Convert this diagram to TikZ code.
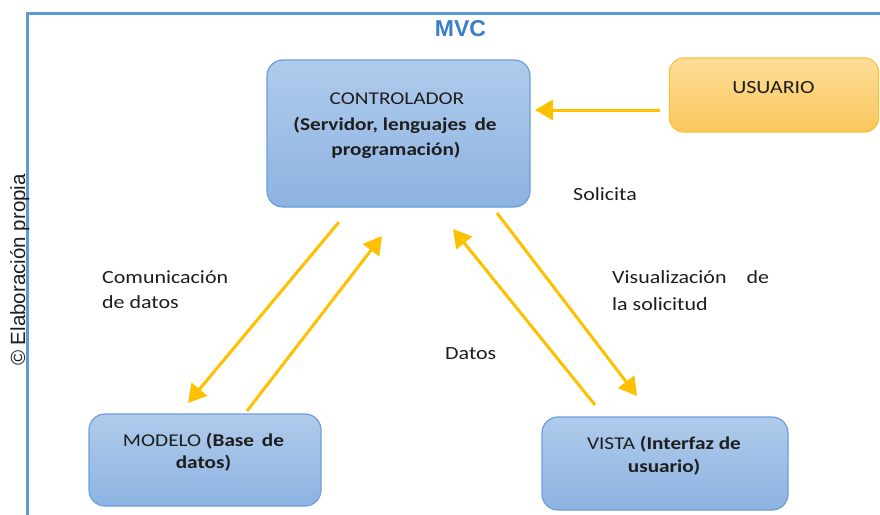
\documentclass[tikz,border=0pt]{standalone}
\usepackage{fontspec}
\setmainfont{Carlito}[FakeStretch=1.18]
\newfontfamily\arialfont{Liberation Sans}
\usetikzlibrary{arrows.meta}
\definecolor{frameblue}{HTML}{5B9BD5}
\definecolor{titleblue}{HTML}{3A7DC9}
\definecolor{boxtop}{HTML}{B0CBEB}
\definecolor{boxbot}{HTML}{8DB3E2}
\definecolor{boxline}{HTML}{6A9FD9}
\definecolor{usrtop}{HTML}{FEDE9A}
\definecolor{usrbot}{HTML}{F9C65A}
\definecolor{usrline}{HTML}{F9C23C}
\definecolor{arrowgold}{HTML}{FFC000}
\definecolor{ink}{HTML}{1E1E1E}
\begin{document}
\begin{tikzpicture}[x=1pt,y=-1pt,
  bluebox/.style={draw=boxline, line width=1.2pt, rounded corners=16pt, top color=boxtop, bottom color=boxbot, inner sep=0pt},
  usrbox/.style={draw=usrline, line width=1.2pt, rounded corners=14pt, top color=usrtop, bottom color=usrbot, inner sep=0pt},
  txt/.style={inner sep=0pt, anchor=base, text=ink, font=\fontsize{18}{22}\selectfont},
  ltxt/.style={txt, anchor=base west, font=\fontsize{18.6}{22}\selectfont},
  arr/.style={draw=arrowgold, line width=3pt, -{Triangle[length=18pt,width=20pt]}}]
\useasboundingbox (0,0) rectangle (880,514);
\fill[white] (0,0) rectangle (880,514);
\draw[frameblue, line width=3pt] (27,516) -- (27,13.5) -- (882,13.5);

% boxes
\node[bluebox, minimum width=263pt, minimum height=147pt] (ctrl) at (398.5,133.5) {};
\node[usrbox, minimum width=209pt, minimum height=74pt] (usr) at (774,95) {};
\node[bluebox, minimum width=232pt, minimum height=92pt] (modelo) at (205,460) {};
\node[bluebox, minimum width=246pt, minimum height=93pt] (vista) at (665,463.5) {};

% title and side note
\node[inner sep=0pt, anchor=base, text=titleblue, font=\arialfont\bfseries\fontsize{23}{23}\selectfont] (title) at (460.5,36) {MVC};
\node[inner sep=0pt, anchor=base, rotate=90, text=ink, font=\arialfont\fontsize{20.5}{20.5}\selectfont] (copy) at (25,270) {© Elaboración propia};

% box texts
\node[txt] (ctrlA) at (397,104) {CONTROLADOR};
\node[txt, font=\bfseries\fontsize{18}{22}\selectfont] (ctrlB) at (395,130) {(Servidor, lenguajes\hspace{3pt} de};
\node[txt, font=\bfseries\fontsize{18}{22}\selectfont] (ctrlC) at (396,155) {programación)};
\node[txt, font=\fontsize{18.6}{22}\selectfont] (usrA) at (773.5,93) {USUARIO};
\node[txt] (modA) at (203.5,446) {MODELO \textbf{(Base\hspace{3pt} de}};
\node[txt] (modB) at (203.5,468) {\textbf{datos)}};
\node[txt] (visA) at (664,449) {VISTA \textbf{(Interfaz de}};
\node[txt] (visB) at (664,472) {\textbf{usuario)}};

% labels
\node[ltxt] (solicita) at (573,200) {Solicita};
\node[ltxt] (comA) at (102,283) {Comunicación};
\node[ltxt] (comB) at (102,308) {de datos};
\node[ltxt] (datos) at (445,359) {Datos};
\node[ltxt] (visuA) at (612,283) {Visualización\hspace{15pt} de};
\node[ltxt] (visuB) at (612,310) {la solicitud};

% connector ends
\coordinate (u1) at (660,110);
\coordinate (u2) at (535,110);
\coordinate (m1s) at (339,222);
\coordinate (m1e) at (188,403);
\coordinate (m2s) at (247,411);
\coordinate (m2e) at (382,236);
\coordinate (v1s) at (595,405);
\coordinate (v1e) at (453,229);
\coordinate (v2s) at (497,213);
\coordinate (v2e) at (637,396);

\draw[arr] (u1) -- (u2);
\draw[arr] (m1s) -- (m1e);
\draw[arr] (m2s) -- (m2e);
\draw[arr] (v1s) -- (v1e);
\draw[arr] (v2s) -- (v2e);
\end{tikzpicture}
\end{document}
